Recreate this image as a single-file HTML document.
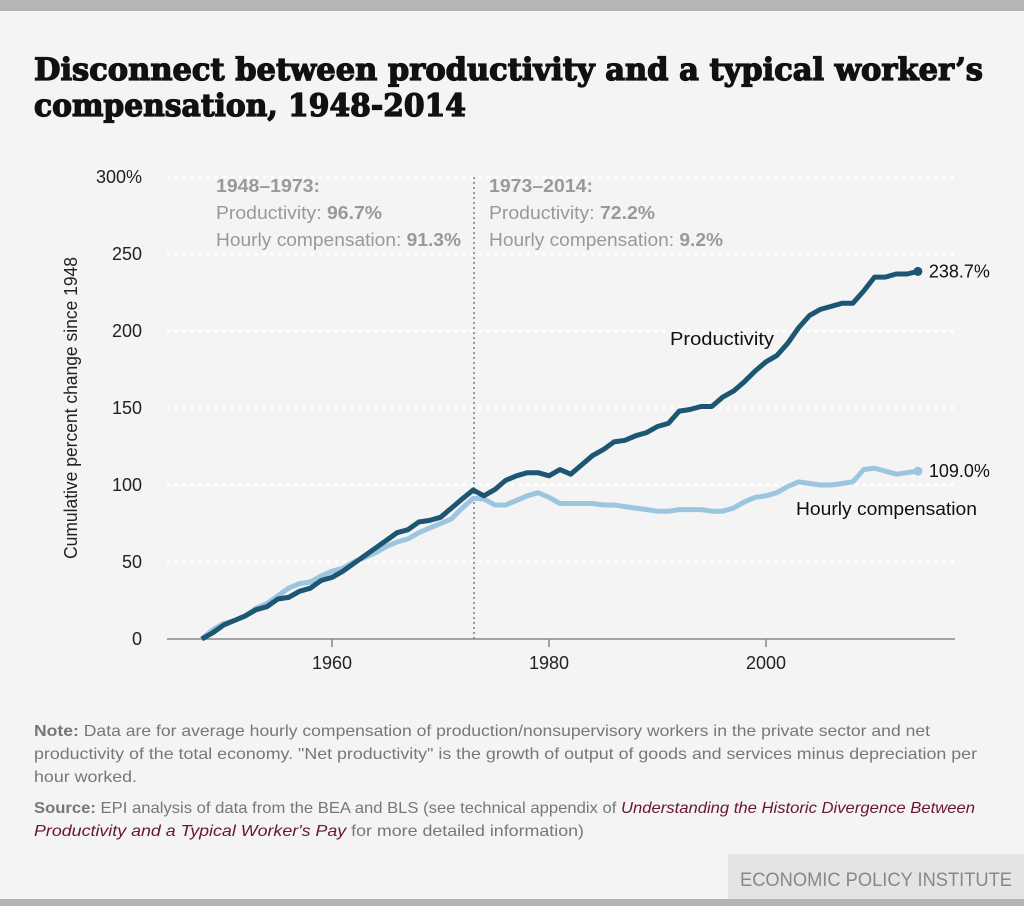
<!DOCTYPE html>
<html><head><meta charset="utf-8"><style>
html,body{margin:0;padding:0;background:#f4f4f4;}
svg{display:block;font-family:"Liberation Sans",sans-serif;}
</style></head><body>
<svg width="1024" height="906" viewBox="0 0 1024 906">
<rect x="0" y="0" width="1024" height="906" fill="#f4f4f4"/>
<rect x="0" y="0" width="1024" height="11" fill="#b5b5b5"/>
<rect x="0" y="899" width="1024" height="7" fill="#b5b5b5"/>
<g font-family="'DejaVu Serif',serif" font-weight="bold" font-size="31" fill="#111" stroke="#111" stroke-width="1.3">
<text x="34" y="80" textLength="949" lengthAdjust="spacingAndGlyphs">Disconnect between productivity and a typical worker’s</text>
<text x="34" y="116" textLength="432" lengthAdjust="spacingAndGlyphs">compensation, 1948-2014</text>
</g>
<g id="grid"></g>
<g id="yticks" font-size="18" fill="#222" text-anchor="end"></g>
<text transform="translate(77,408) rotate(-90)" text-anchor="middle" font-size="18" fill="#222" textLength="302" lengthAdjust="spacingAndGlyphs">Cumulative percent change since 1948</text>
<line x1="474" y1="177" x2="474" y2="639" stroke="#999" stroke-width="2" stroke-dasharray="2,3"/>
<g font-size="18" fill="#999">
<text x="216" y="192" font-weight="bold" textLength="104" lengthAdjust="spacingAndGlyphs">1948–1973:</text>
<text x="216" y="219" textLength="166" lengthAdjust="spacingAndGlyphs">Productivity: <tspan font-weight="bold">96.7%</tspan></text>
<text x="216" y="246" textLength="245" lengthAdjust="spacingAndGlyphs">Hourly compensation: <tspan font-weight="bold">91.3%</tspan></text>
</g>
<g font-size="18" fill="#999">
<text x="489" y="192" font-weight="bold" textLength="104" lengthAdjust="spacingAndGlyphs">1973–2014:</text>
<text x="489" y="219" textLength="166" lengthAdjust="spacingAndGlyphs">Productivity: <tspan font-weight="bold">72.2%</tspan></text>
<text x="489" y="246" textLength="234" lengthAdjust="spacingAndGlyphs">Hourly compensation: <tspan font-weight="bold">9.2%</tspan></text>
</g>
<line x1="167" y1="639" x2="955" y2="639" stroke="#888" stroke-width="1.5"/>
<g id="xticks" font-size="18" fill="#222" text-anchor="middle"></g>
<g id="series"></g>
<text x="670" y="345" font-size="18" fill="#111" textLength="104" lengthAdjust="spacingAndGlyphs">Productivity</text>
<text x="796" y="515" font-size="18" fill="#111" textLength="181" lengthAdjust="spacingAndGlyphs">Hourly compensation</text>
<g font-size="16" fill="#777">
<text x="34" y="736" textLength="896" lengthAdjust="spacingAndGlyphs"><tspan font-weight="bold">Note:</tspan> Data are for average hourly compensation of production/nonsupervisory workers in the private sector and net</text>
<text x="34" y="759" textLength="943" lengthAdjust="spacingAndGlyphs">productivity of the total economy. "Net productivity" is the growth of output of goods and services minus depreciation per</text>
<text x="34" y="782" textLength="103" lengthAdjust="spacingAndGlyphs">hour worked.</text>
</g>
<g font-size="16" fill="#777">
<text x="34" y="813" textLength="941" lengthAdjust="spacingAndGlyphs"><tspan font-weight="bold">Source:</tspan> EPI analysis of data from the BEA and BLS (see technical appendix of <tspan font-style="italic" fill="#6b1530">Understanding the Historic Divergence Between</tspan></text>
<text x="34" y="836" textLength="550" lengthAdjust="spacingAndGlyphs"><tspan font-style="italic" fill="#6b1530">Productivity and a Typical Worker's Pay</tspan> for more detailed information)</text>
</g>
<rect x="728" y="854" width="296" height="45" fill="#e4e4e4"/>
<text x="740" y="886" font-size="19" fill="#888" textLength="272" lengthAdjust="spacingAndGlyphs">ECONOMIC POLICY INSTITUTE</text>
</svg>
<script>
const years = [];
for (let y = 1948; y <= 2014; y++) years.push(y);
const productivity = [0,4,9,12,15,19,21,26,27,31,33,38,40,44,49,54,59,64,69,71,76,77,79,85,91,96.7,93,97,103,106,108,108,106,110,107,113,119,123,128,129,132,134,138,140,148,149,151,151,157,161,167,174,180,184,192,202,210,214,216,218,218,226,235,235,237,237,238.7];
const compensation = [0,6,10,12,15,20,23,28,33,36,37,41,44,46,50,53,56,60,63,65,69,72,75,78,85,91.3,91,87,87,90,93,95,92,88,88,88,88,87,87,86,85,84,83,83,84,84,84,83,83,85,89,92,93,95,99,102,101,100,100,101,102,110,111,109,107,108,109.0];
const yTicks = [0,50,100,150,200,250,300];
const yTickLabels = ["0","50","100","150","200","250","300%"];
const xTicks = [1960,1980,2000];
const endLabels = ["238.7%","109.0%"];

const NS = "http://www.w3.org/2000/svg";
const xs = y => 201.8 + (y - 1948) * 10.85;
const ys = v => 639 - v * 1.54;
function mk(tag, attrs, parent) {
  const e = document.createElementNS(NS, tag);
  for (const k in attrs) e.setAttribute(k, attrs[k]);
  parent.appendChild(e); return e;
}
const grid = document.getElementById('grid');
const yt = document.getElementById('yticks');
yTicks.forEach((v, i) => {
  if (v > 0) {
    const l = mk('line', {x1:167, x2:955, y1:ys(v), y2:ys(v), stroke:'#fff', 'stroke-width':3, 'stroke-dasharray':'3,5'}, grid);
    
    
  }
  const t = mk('text', {x:142, y:ys(v)+6}, yt);
  t.textContent = yTickLabels[i];
  
  
});
const xt = document.getElementById('xticks');
xTicks.forEach(y => {
  const l = mk('line', {x1:xs(y), x2:xs(y), y1:639, y2:647, stroke:'#888', 'stroke-width':1.5}, xt);
  
  
  const t = mk('text', {x:xs(y), y:669}, xt);
  t.textContent = y;
  
  
});
const sg = document.getElementById('series');
function line(vals, color, name, endLabel) {
  const d = vals.map((v, i) => (i ? 'L' : 'M') + xs(years[i]).toFixed(1) + ',' + ys(v).toFixed(1)).join('');
  const p = mk('path', {d:d, fill:'none', stroke:color, 'stroke-width':5, 'stroke-linejoin':'round'}, sg);
  
  
  const last = vals.length - 1;
  const c = mk('circle', {cx:xs(years[last]), cy:ys(vals[last]), r:4.5, fill:color}, sg);
  
  
  const t = mk('text', {x:xs(years[last]) + 11, y:ys(vals[last]) + 6, 'font-size':18, fill:'#111'}, sg);
  t.textContent = endLabel;
  
  
}
line(compensation, '#9cc5e0', 'compensation', endLabels[1]);
line(productivity, '#1d5673', 'productivity', endLabels[0]);
</script>
</body></html>
